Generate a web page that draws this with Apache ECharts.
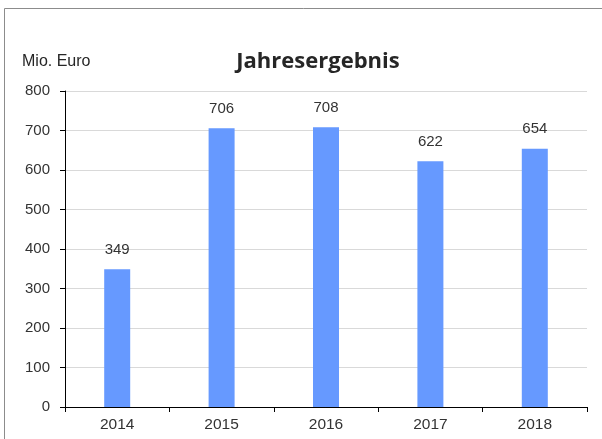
<!DOCTYPE html>
<html lang="de">
<head>
    <meta charset="UTF-8">
    <title>Jahresergebnis</title>
    <style>
        body,html{
            margin: 0;
            background: #fff;
        }
        #chart{
            width: 602px;
            height: 439px;
        }
    </style>
</head>
<body>
<div id="chart"></div>
<script src="https://cdn.jsdelivr.net/npm/echarts@6/dist/echarts.min.js"></script>
<script type="text/javascript">
    // Daten
    let years = ['2014', '2015', '2016', '2017', '2018'];
    let ergebnis = [349, 706, 708, 622, 654];
    let yTicks = [0, 100, 200, 300, 400, 500, 600, 700, 800];

    let myChart = echarts.init(document.getElementById('chart'));
    let option = {
        animation: false,
        title: {
            text: 'Jahresergebnis',
            left: 313,
            textAlign: 'center',
            top: 46,
            textStyle: {
                fontFamily: 'Open Sans',
                fontWeight: 'bold',
                fontSize: 22,
                color: '#262626'
            }
        },
        //Rahmen links und oben
        graphic: [
            {type: 'line', shape: {x1: 4.5, y1: 8.5, x2: 602, y2: 8.5}, style: {stroke: '#8c8c8c', lineWidth: 1}},
            {type: 'line', shape: {x1: 4.5, y1: 8.5, x2: 4.5, y2: 439}, style: {stroke: '#8c8c8c', lineWidth: 1}},
            {type: 'text', left: 22, top: 54, style: {text: 'Mio. Euro', font: '16px "Liberation Sans"', fill: '#262626'}}
        ],
        grid: {
            left: 65,
            top: 91,
            right: 15,
            bottom: 32
        },
        xAxis: {
            type: 'category',
            data: years,
            axisLine: {lineStyle: {color: '#000'}},
            axisTick: {show: true, length: 5, lineStyle: {color: '#000'}},
            axisLabel: {
                fontFamily: 'Liberation Sans',
                fontSize: 15.5,
                color: '#333',
                margin: 10
            }
        },
        yAxis: {
            type: 'value',
            min: yTicks[0],
            max: yTicks[yTicks.length - 1],
            interval: 100,
            axisLine: {show: true, lineStyle: {color: '#000'}},
            axisTick: {show: true, length: 5, lineStyle: {color: '#000'}},
            axisLabel: {
                fontFamily: 'Liberation Sans',
                fontSize: 15,
                color: '#333',
                margin: 15
            },
            splitLine: {lineStyle: {color: '#d9d9d9'}}
        },
        series: [
            {
                type: 'bar',
                data: ergebnis,
                barWidth: 26,
                itemStyle: {color: '#6699ff'},
                label: {
                    show: true,
                    position: 'top',
                    distance: 12,
                    fontFamily: 'Liberation Sans',
                    fontSize: 15,
                    color: '#333'
                }
            }
        ]
    };
    myChart.setOption(option);
</script>
</body>
</html>
